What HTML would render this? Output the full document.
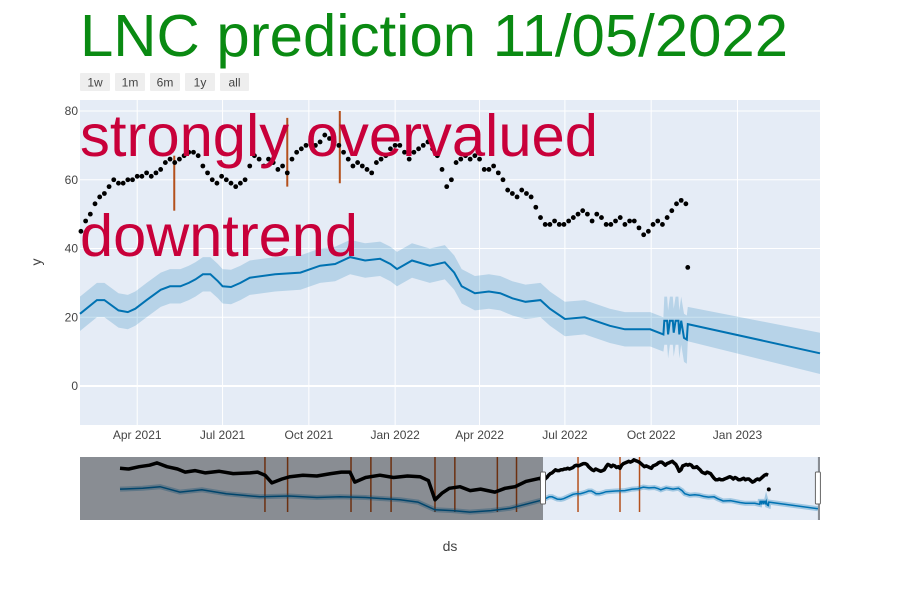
<!DOCTYPE html>
<html><head><meta charset="utf-8">
<style>
body{margin:0;background:#fff;font-family:"Liberation Sans",sans-serif;}
#wrap{position:relative;width:900px;height:600px;overflow:hidden;}
svg text{font-family:"Liberation Sans",sans-serif;}
</style></head>
<body>
<div id="wrap">
<svg id="chart" width="900" height="600"></svg>
</div>
<script>
// ---- data ----
const obsStart = 30, obsStep = 5;
const obsVals = [45,48,50,53,55,56,58,60,59,59,60,60,61,61,62,61,62,63,65,66,65,66,67,68,68,67,64,62,60,59,61,60,59,58,59,60,64,67,66,64,66,65,63,64,62,66,68,69,70,71,70,71,73,72,71,70,68,66,64,65,64,63,62,65,66,67,69,70,70,68,66,68,69,70,71,69,67,63,58,60,65,66,67,66,67,66,63,63,64,62,60,57,56,55,57,56,55,52,49,47,47,48,47,47,48,49,50,51,50,48,50,49,47,47,48,49,47,48,48,46,44,45,47,48,47,49,51,53,54,53];
const outlierDays = [677];
const outlierVals = [34.5];
const fcDays = [29,47,55,70,80,88,100,115,125,136,145,152,160,168,176,181,190,200,210,237,264,285,301,317,333,349,360,367,383,402,418,428,436,450,465,477,490,504,520,530,546,567,594,610,637,651,652,655,656,658,661,662,664,667,668,670,673,676,677,818];
const fcYhat = [21,25,25,22,21.5,22.5,25,28,29,29,30,31,32.5,32.5,30.5,29,28.8,30,31.5,32.5,33,35,35.5,37.5,36.5,37,35.5,34,36.5,35,36,33,29,27,27.5,27,25.5,24.5,25,22.5,19.5,20,17.5,16.5,16.5,15,19,19,15,19,19,15.5,19,19,15,19,14,13.5,18,9.5];
const fcSpread = [5,5,5,5,5,5,5,5,5,5,5,5,5,5,5,5,5,5,5,5,5,5,5,5,5,5,5,5,5,5,5,5,5,5,5,5,5,5,5,5,5,5,5,5,5,5,7,7,7,7,7,7,7,7,7,7,7,7,5,6];
const cpDays = [129.5,250,306];
const cpLow = [51,58,59];
const cpHigh = [67,78,80];
const yTicks = [0,20,40,60,80];
const xTickDays = [90,181,273,365,455,546,638,730];
const xTickLabels = ["Apr 2021","Jul 2021","Oct 2021","Jan 2022","Apr 2022","Jul 2022","Oct 2022","Jan 2023"];
// slider history (before main range)
const histObsDays = [-1185,-1160,-1130,-1100,-1079,-1050,-1020,-998,-970,-940,-900,-860,-812,-790,-769,-749,-720,-697,-660,-620,-580,-550,-525,-511,-480,-439,-400,-360,-324,-300,-281,-260,-240,-209,-180,-150,-109,-80,-51,-20,20];
const histObsVals = [62,61,64,66,69,64,61,57,59,56,58,55,56,57,53,43,48,51,53,52,55,57,57,44,50,53,50,52,51,46,21,30,36,38,33,35,31,36,38,45,49];
const histFcDays = [-1185,-1120,-1070,-1013,-950,-880,-783,-700,-620,-554,-480,-381,-330,-281,-230,-181,-120,-66,29];
const histFcVals = [35,36,38,31,34,29,25,26,24,25,24,21,18,8,7,5,7,10,21];
const histCpDays = [-769,-704,-522,-465,-407,-281,-224,-102,-47];

// ---- scales ----
const X0=80,X1=820,Y0=100,Y1=425;
const dMin=29,dMax=818;
const xs = d => X0 + (d-dMin)*(X1-X0)/(dMax-dMin);
const ys = v => 386 - v*3.4375;
const sX0=80,sX1=820,sY0=457,sY1=520;
const sxs = d => 543 + (d-dMin)/2.87;
const sys = v => 516 - v*0.77;

const svg=document.getElementById('chart');
const NS='http://www.w3.org/2000/svg';
function mk(tag,attrs,parent){const e=document.createElementNS(NS,tag);for(const k in attrs)e.setAttribute(k,attrs[k]);(parent||svg).appendChild(e);return e;}

// title
let t=mk('text',{x:80,y:56,'font-size':'59','fill':'#0a8a12',textLength:708,lengthAdjust:'spacingAndGlyphs'});t.textContent='LNC prediction 11/05/2022';



// range buttons
const btns=[['1w',80,30],['1m',115,30],['6m',150,30],['1y',185,30],['all',220,29]];
btns.forEach(b=>{
  const g=mk('g',{});
  
  
  mk('rect',{x:b[1],y:73,width:b[2],height:18,fill:'#eeeeee',rx:1},g);
  const tx=mk('text',{x:b[1]+b[2]/2,y:86.5,'font-size':'12','fill':'#444','text-anchor':'middle'},g);tx.textContent=b[0];
});

// plot area
const plot=mk('g',{});


mk('rect',{x:X0,y:Y0,width:X1-X0,height:Y1-Y0,fill:'#e5ecf6'},plot);
yTicks.forEach(v=>{
  const l=mk('line',{x1:X0,x2:X1,y1:ys(v),y2:ys(v),stroke:'#fff','stroke-width':v===0?2:1},plot);
  
  
  const tx=mk('text',{x:X0-2,y:ys(v)+4,'font-size':'12','fill':'#444','text-anchor':'end'});tx.textContent=v;
  
  
});
xTickDays.forEach((d,i)=>{
  const l=mk('line',{x1:xs(d),x2:xs(d),y1:Y0,y2:Y1,stroke:'#fff','stroke-width':1},plot);
  
  
  const tx=mk('text',{x:xs(d),y:439,'font-size':'12','fill':'#444','text-anchor':'middle'});tx.textContent=xTickLabels[i];
  
  
});

// band
let up='',lo='';
fcDays.forEach((d,i)=>{up+=(i?'L':'M')+xs(d).toFixed(1)+','+ys(fcYhat[i]+fcSpread[i]).toFixed(1);});
for(let i=fcDays.length-1;i>=0;i--){lo+='L'+xs(fcDays[i]).toFixed(1)+','+ys(fcYhat[i]-fcSpread[i]).toFixed(1);}
const band=mk('path',{d:up+lo+'Z',fill:'rgba(0,114,178,0.2)'},plot);


let lp='';fcDays.forEach((d,i)=>{lp+=(i?'L':'M')+xs(d).toFixed(1)+','+ys(fcYhat[i]).toFixed(1);});
const fl=mk('path',{d:lp,fill:'none',stroke:'#0072B2','stroke-width':2},plot);



// changepoints
cpDays.forEach((d,i)=>{
  const l=mk('line',{x1:xs(d),x2:xs(d),y1:ys(cpHigh[i]),y2:ys(cpLow[i]),stroke:'#b4501c','stroke-width':2},plot);
  
  
});

// observed points
obsVals.forEach((v,i)=>{
  const c=mk('circle',{cx:xs(obsStart+i*obsStep),cy:ys(v),r:2.4,fill:'#000'},plot);
  
  
});
outlierDays.forEach((d,i)=>{
  const c=mk('circle',{cx:xs(d),cy:ys(outlierVals[i]),r:2.4,fill:'#000'},plot);
  
  
});

// annotations
let a1=mk('text',{x:80,y:156,'font-size':'59','fill':'#c8003a',textLength:518,lengthAdjust:'spacingAndGlyphs'});a1.textContent='strongly overvalued';


let a2=mk('text',{x:80,y:256,'font-size':'59','fill':'#c8003a',textLength:278,lengthAdjust:'spacingAndGlyphs'});a2.textContent='downtrend';



// axis titles
let yt=mk('text',{x:41,y:262,'font-size':'14','fill':'#444','text-anchor':'middle',transform:'rotate(-90 41 262)'});yt.textContent='y';


let xt=mk('text',{x:450,y:551,'font-size':'14','fill':'#444','text-anchor':'middle'});xt.textContent='ds';



// ---- range slider ----
const sl=mk('g',{});


const clip=mk('clipPath',{id:'sclip'});mk('rect',{x:sX0,y:sY0,width:sX1-sX0,height:sY1-sY0},clip);
mk('rect',{x:sX0,y:sY0,width:sX1-sX0,height:sY1-sY0,fill:'#e5ecf6'},sl);
const sg=mk('g',{'clip-path':'url(#sclip)'},sl);
const allCp=histCpDays.concat(cpDays);
allCp.forEach(d=>{
  const l=mk('line',{x1:sxs(d),x2:sxs(d),y1:sY0,y2:512,stroke:'#b4501c','stroke-width':1.5},sg);
  
  
});
let sb='';histFcDays.forEach((d,i)=>{sb+=(i?'L':'M')+sxs(d).toFixed(1)+','+sys(histFcVals[i]).toFixed(1);});
fcDays.forEach((d,i)=>{sb+='L'+sxs(d).toFixed(1)+','+sys(fcYhat[i]).toFixed(1);});
const sbl=mk('path',{d:sb,fill:'none',stroke:'rgba(0,114,178,0.3)','stroke-width':5},sg);


const sfl=mk('path',{d:sb,fill:'none',stroke:'#0072B2','stroke-width':1.5},sg);


let so='';histObsDays.forEach((d,i)=>{so+=(i?'L':'M')+sxs(d).toFixed(1)+','+sys(histObsVals[i]).toFixed(1);});
obsVals.forEach((v,i)=>{so+='L'+sxs(obsStart+i*obsStep).toFixed(1)+','+sys(v).toFixed(1);});
const sol=mk('path',{d:so,fill:'none',stroke:'#000','stroke-width':3.5,'stroke-linejoin':'round'},sg);


outlierDays.forEach((d,i)=>{mk('circle',{cx:sxs(d),cy:sys(outlierVals[i]),r:2,fill:'#000'},sg);});
const mask=mk('rect',{x:sX0,y:sY0,width:sxs(dMin)-sX0,height:sY1-sY0,fill:'rgba(0,0,0,0.4)'},sl);


mk('rect',{x:sxs(dMax),y:sY0,width:sX1-sxs(dMax),height:sY1-sY0,fill:'rgba(0,0,0,0.4)'},sl);
[sxs(dMin),sxs(dMax)].forEach(x=>{
  const h=mk('rect',{x:x-2.5,y:472,width:5,height:32,fill:'#fff',stroke:'#666','stroke-width':1,rx:1},sl);
  
  
});
</script>
</body></html>
